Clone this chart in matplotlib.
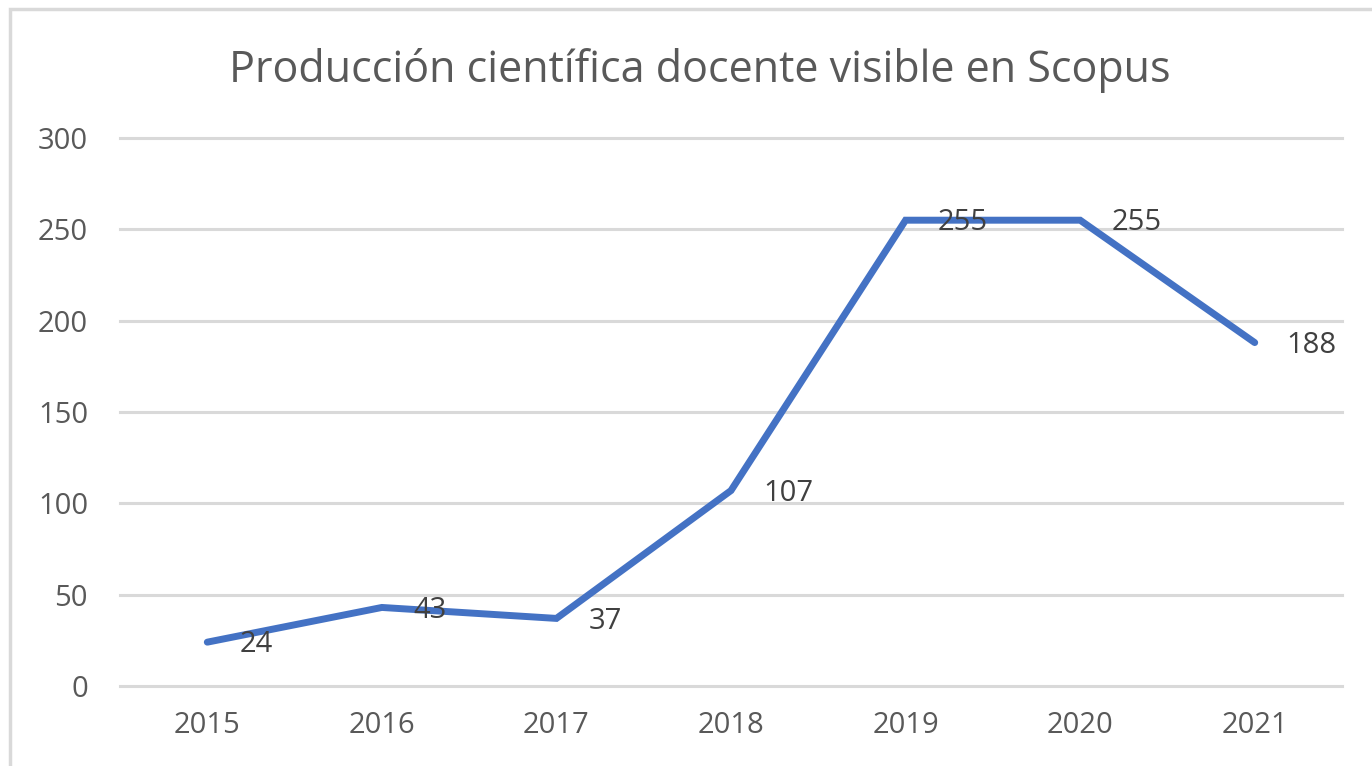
import matplotlib.pyplot as plt
from matplotlib.patches import Rectangle

years = ['2015', '2016', '2017', '2018', '2019', '2020', '2021']
docs = [24, 43, 37, 107, 255, 255, 188]
yticks = [0, 50, 100, 150, 200, 250, 300]

text_col = '#595959'
plt.rcParams['font.family'] = ['Open Sans', 'DejaVu Sans']

fig = plt.figure(figsize=(13.72, 7.66), dpi=100)
ax = fig.add_axes([120/1372, 1 - 686/766, 1222/1372, 548/766])

# light frame of the chart area (only top and left visible in the crop)
fig.patches.append(Rectangle((10/1372, -0.1), 1.2, 1 - 9/766 + 0.1, transform=fig.transFigure,
                             fill=False, edgecolor='#D9D9D9', linewidth=2.5))

x = list(range(len(years)))
ax.plot(x, docs, color='#4472C4', linewidth=5, solid_capstyle='round', solid_joinstyle='miter', zorder=3)

for i, v in enumerate(docs):
    ax.annotate(str(v), (i, v), xytext=(23, -2), textcoords='offset points',
                ha='left', va='center', fontsize=21, color='#404040', zorder=4)

ax.set_xlim(-0.5, 6.5)
ax.set_ylim(0, 300)
ax.set_yticks(yticks)
ax.set_xticks(x)
ax.set_xticklabels(years)
ax.grid(axis='y', color='#D9D9D9', linewidth=2.2)
for gl in ax.get_ygridlines():
    gl.set_clip_on(False)
ax.set_axisbelow(True)
for s in ax.spines.values():
    s.set_visible(False)
ax.tick_params(axis='both', length=0, labelsize=21, labelcolor=text_col)
ax.tick_params(axis='y', pad=23)
ax.tick_params(axis='x', pad=18)

fig.text(700/1372, 1 - 82/766, 'Producción científica docente visible en Scopus',
         ha='center', va='baseline', fontsize=31, color=text_col)

fig.savefig('out.png', dpi=100)
